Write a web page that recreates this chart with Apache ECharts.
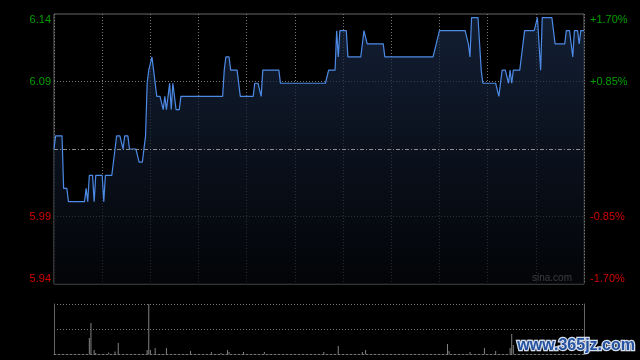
<!DOCTYPE html>
<html><head><meta charset="utf-8">
<script src="https://cdn.jsdelivr.net/npm/echarts@6/dist/echarts.min.js"></script>
<style>html,body{margin:0;padding:0;background:#000;}#c{width:640px;height:360px;}</style>
</head><body><div id="c"></div>
<script>
// previous close (the dash-dot middle line)
const prevClose = 6.04;

// one price per minute, 09:30-12:00 and 13:00-16:00 (331 points)
const prices = [
6.04,6.05,6.05,6.05,6.05,6.05,6.01,6.01,6.01,6.00,
6.00,6.00,6.00,6.00,6.00,6.00,6.00,6.00,6.00,6.00,
6.01,6.00,6.02,6.02,6.02,6.00,6.02,6.02,6.02,6.02,
6.02,6.00,6.02,6.02,6.02,6.02,6.02,6.02,6.04,6.05,
6.05,6.05,6.05,6.04,6.05,6.05,6.05,6.04,6.04,6.04,
6.04,6.04,6.04,6.03,6.03,6.03,6.03,6.05,6.09,6.10,
6.10,6.11,6.10,6.10,6.08,6.08,6.08,6.08,6.07,6.08,
6.07,6.08,6.09,6.07,6.09,6.08,6.07,6.07,6.07,6.08,
6.08,6.08,6.08,6.08,6.08,6.08,6.08,6.08,6.08,6.08,
6.08,6.08,6.08,6.08,6.08,6.08,6.08,6.08,6.08,6.08,
6.08,6.08,6.08,6.08,6.08,6.08,6.10,6.11,6.11,6.11,
6.10,6.10,6.10,6.10,6.10,6.10,6.08,6.08,6.08,6.08,
6.08,6.08,6.08,6.08,6.08,6.09,6.09,6.09,6.09,6.08,
6.10,6.10,6.10,6.10,6.10,6.10,6.10,6.10,6.10,6.10,
6.10,6.09,6.09,6.09,6.09,6.09,6.09,6.09,6.09,6.09,
6.09,6.09,6.09,6.09,6.09,6.09,6.09,6.09,6.09,6.09,
6.09,6.09,6.09,6.09,6.09,6.09,6.09,6.09,6.09,6.09,
6.09,6.10,6.10,6.10,6.10,6.10,6.13,6.11,6.13,6.13,
6.13,6.13,6.13,6.11,6.11,6.11,6.11,6.11,6.11,6.11,
6.11,6.11,6.11,6.13,6.13,6.12,6.12,6.12,6.12,6.12,
6.12,6.12,6.12,6.12,6.12,6.12,6.11,6.11,6.11,6.11,
6.11,6.11,6.11,6.11,6.11,6.11,6.11,6.11,6.11,6.11,
6.11,6.11,6.11,6.11,6.11,6.11,6.11,6.11,6.11,6.11,
6.11,6.11,6.11,6.11,6.11,6.11,6.11,6.11,6.12,6.12,
6.13,6.13,6.13,6.13,6.13,6.13,6.13,6.13,6.13,6.13,
6.13,6.13,6.13,6.13,6.13,6.13,6.13,6.13,6.12,6.11,
6.14,6.14,6.14,6.14,6.14,6.12,6.10,6.09,6.09,6.09,
6.09,6.09,6.09,6.09,6.09,6.09,6.09,6.08,6.08,6.10,
6.10,6.10,6.10,6.09,6.10,6.09,6.10,6.10,6.10,6.10,
6.10,6.10,6.12,6.13,6.13,6.13,6.13,6.13,6.13,6.13,
6.13,6.14,6.14,6.10,6.14,6.14,6.14,6.14,6.14,6.14,
6.14,6.14,6.12,6.12,6.12,6.12,6.12,6.12,6.12,6.13,
6.13,6.13,6.13,6.11,6.13,6.13,6.13,6.12,6.13,6.13,
6.13
];

// volume: minute index and volume (relative units, panel top = 50)
const volMinute = [22,23,25,26,34,38,40,58,59,60,63,70,85,98,104,108,109,118,131,168,177,192,194,245,246,259,268,275,284,285,286];
const volAmount = [16,31,4,1,1.5,2.5,11,4,50,4,6,6,3,2,1,4,2,2,2,2,8,2,4,10,3,2,6,3,6,20,9];

// tick labels, bottom to top (ticks at -1.70%, -0.85%, 0, +0.85%, +1.70%)
const priceTickLabels = ['5.94','5.99','','6.09','6.14'];
const pctTickLabels = ['-1.70%','-0.85%','','+0.85%','+1.70%'];

// minute categories
const categories = [];
(function(){
  function push(h0,m0,h1,m1){
    for(let t=h0*60+m0;t<=h1*60+m1;t++){
      const h=Math.floor(t/60), m=t%60;
      categories.push((h<10?'0':'')+h+':'+(m<10?'0':'')+m);
    }
  }
  push(9,30,12,0); push(13,1,16,0);
})();

const pctData = prices.map(p => +((p/prevClose - 1)*100).toFixed(4));
const volData = categories.map(() => 0);
volMinute.forEach((m,k) => { volData[m] = volAmount[k]; });

function tickIndex(v){ return Math.round((v + 1.7)/0.85); }

const chart = echarts.init(document.getElementById('c'), null, {renderer:'canvas'});
const dotted = [1,2];
chart.setOption({
  backgroundColor:'#000',
  animation:false,
  grid:[
    {left:54, top:14, width:530, height:270, show:true, borderColor:'#666', borderWidth:1, backgroundColor:'transparent'},
    {left:54, top:304, width:530, height:50, show:false}
  ],
  xAxis:[
    {type:'category', gridIndex:0, data:categories, boundaryGap:false,
     axisLine:{show:false}, axisTick:{show:false}, axisLabel:{show:false},
     splitLine:{show:true, interval:29, lineStyle:{color:'#777', type:dotted, width:1}}},
    {type:'category', gridIndex:1, data:categories, boundaryGap:false,
     axisLine:{show:true, lineStyle:{color:'#777', type:[2,2], width:1}}, axisTick:{show:false}, axisLabel:{show:false},
     splitLine:{show:false}}
  ],
  yAxis:[
    {type:'value', gridIndex:0, min:-1.7, max:1.7, interval:0.85, position:'left',
     axisLine:{show:false}, axisTick:{show:false},
     splitLine:{show:true, lineStyle:{color:['rgba(0,0,0,0)','#777','rgba(0,0,0,0)','#777','rgba(0,0,0,0)'], type:dotted, width:1}},
     axisLabel:{show:true, margin:3, fontSize:11, fontFamily:'Liberation Sans, Arial, sans-serif',
       verticalAlignMinLabel:'bottom', verticalAlignMaxLabel:'top',
       formatter:function(v){ const i=tickIndex(v); const t=priceTickLabels[i]; if(!t) return ''; return (v>0?'{g|':'{r|')+t+'}'; },
       rich:{g:{color:'#00a000', fontSize:11, fontFamily:'Liberation Sans, Arial, sans-serif'}, r:{color:'#d40000', fontSize:11, fontFamily:'Liberation Sans, Arial, sans-serif'}}}},
    {type:'value', gridIndex:0, min:-1.7, max:1.7, interval:0.85, position:'right',
     axisLine:{show:false}, axisTick:{show:false}, splitLine:{show:false},
     axisLabel:{show:true, margin:6, fontSize:11, fontFamily:'Liberation Sans, Arial, sans-serif',
       verticalAlignMinLabel:'bottom', verticalAlignMaxLabel:'top',
       formatter:function(v){ const i=tickIndex(v); const t=pctTickLabels[i]; if(!t) return ''; return (v>0?'{g|':'{r|')+t+'}'; },
       rich:{g:{color:'#00a000', fontSize:11, fontFamily:'Liberation Sans, Arial, sans-serif'}, r:{color:'#d40000', fontSize:11, fontFamily:'Liberation Sans, Arial, sans-serif'}}}},
    {type:'value', gridIndex:1, min:0, max:50, interval:25, position:'left',
     axisLine:{show:true, lineStyle:{color:'#666', width:1}}, axisTick:{show:false}, axisLabel:{show:false},
     splitLine:{show:true, lineStyle:{color:['rgba(0,0,0,0)','#777','#777'], type:dotted, width:1}}},
    {type:'value', gridIndex:1, min:0, max:50, interval:25, position:'right',
     axisLine:{show:true, lineStyle:{color:'#666', width:1}}, axisTick:{show:false}, axisLabel:{show:false},
     splitLine:{show:false}}
  ],
  series:[
    {type:'line', xAxisIndex:0, yAxisIndex:0, data:pctData, symbol:'none', smooth:false,
     lineStyle:{color:'#4d8ae6', width:1.2},
     areaStyle:{origin:'start', color:new echarts.graphic.LinearGradient(0,0,0,1,[
       {offset:0, color:'#1a2b48'},{offset:1, color:'#04060a'}])},
     markLine:{silent:true, symbol:['none','none'], label:{show:false}, animation:false,
       lineStyle:{color:'#8c8c8c', type:[4,2,1,2], width:1}, data:[{yAxis:0}]}},
    {type:'bar', xAxisIndex:1, yAxisIndex:2, data:volData, barWidth:1,
     itemStyle:{color:'#828282'}}
  ],
  graphic:[
    {type:'text', left:532, top:273, style:{text:'sina.com', fill:'#b4b4b4', font:'10px "Liberation Sans", Arial, sans-serif'}},
    {type:'text', left:516, top:336, z:100, style:{text:'www.365jz.com', fill:'#2452a0', stroke:'#d6deec', lineWidth:2.5,
      font:'bold 16px "Liberation Sans", Arial, sans-serif'}}
  ]
});
</script></body></html>
